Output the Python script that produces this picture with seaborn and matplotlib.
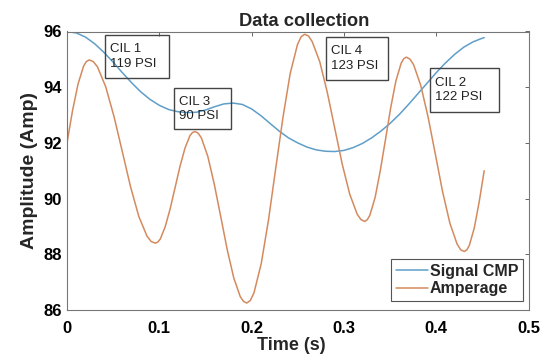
import numpy as np
import pandas as pd
import matplotlib
matplotlib.use("Agg")
import matplotlib.pyplot as plt
import seaborn as sns
from matplotlib.patches import Rectangle

# ---------------- data ----------------
series_names = ["Signal CMP", "Amperage"]
series_colors = ["#5f9ec9", "#d48a5e"]

cmp_time = [0.00, 0.01, 0.02, 0.03, 0.04, 0.05, 0.06, 0.07, 0.08, 0.09,
            0.10, 0.11, 0.12, 0.13, 0.14, 0.15, 0.16, 0.17, 0.18, 0.19,
            0.20, 0.21, 0.22, 0.23, 0.24, 0.25, 0.26, 0.27, 0.28, 0.29,
            0.30, 0.31, 0.32, 0.33, 0.34, 0.35, 0.36, 0.37, 0.38, 0.39,
            0.40, 0.41, 0.42, 0.43, 0.44, 0.45, 0.452]
cmp_value = [96.00, 95.95, 95.80, 95.56, 95.25, 94.90, 94.52, 94.16, 93.83, 93.56,
             93.35, 93.20, 93.12, 93.09, 93.10, 93.18, 93.30, 93.40, 93.43, 93.38,
             93.22, 92.98, 92.70, 92.42, 92.18, 92.00, 91.85, 91.75, 91.70, 91.69,
             91.73, 91.83, 91.98, 92.18, 92.42, 92.70, 93.02, 93.38, 93.76, 94.14,
             94.52, 94.87, 95.18, 95.44, 95.63, 95.76, 95.78]

amp_time = [0.000, 0.006, 0.012, 0.018, 0.021, 0.024,
            0.0285, 0.0330, 0.0419, 0.0509, 0.0599, 0.0688, 0.0778, 0.0867, 0.0912, 0.0957,
            0.0984, 0.1011, 0.1064, 0.1118, 0.1172, 0.1225, 0.1279, 0.1332, 0.1359, 0.1386,
            0.1421, 0.1456, 0.1526, 0.1596, 0.1667, 0.1737, 0.1807, 0.1877, 0.1912, 0.1947,
            0.1986, 0.2026, 0.2104, 0.2183, 0.2261, 0.2340, 0.2418, 0.2497, 0.2536, 0.2575,
            0.2616, 0.2656, 0.2738, 0.2819, 0.2900, 0.2981, 0.3063, 0.3144, 0.3184, 0.3225,
            0.3253, 0.3281, 0.3338, 0.3394, 0.3451, 0.3507, 0.3563, 0.3620, 0.3648, 0.3676,
            0.3715, 0.3755, 0.3833, 0.3912, 0.3991, 0.4069, 0.4148, 0.4226, 0.4266, 0.4305,
            0.4332, 0.4359, 0.4413, 0.4466, 0.4520]
amp_value = [92.00, 93.16, 94.12, 94.76, 94.92, 94.98,
             94.92, 94.73, 94.02, 92.95, 91.69, 90.43, 89.36, 88.65, 88.46, 88.40,
             88.44, 88.55, 88.99, 89.64, 90.41, 91.17, 91.82, 92.26, 92.37, 92.41,
             92.35, 92.18, 91.51, 90.51, 89.33, 88.15, 87.15, 86.48, 86.31, 86.25,
             86.34, 86.62, 87.66, 89.23, 91.08, 92.92, 94.49, 95.53, 95.81, 95.90,
             95.84, 95.64, 94.92, 93.83, 92.54, 91.25, 90.16, 89.44, 89.25, 89.18,
             89.24, 89.40, 90.04, 91.00, 92.13, 93.26, 94.22, 94.86, 95.02, 95.08,
             95.01, 94.81, 94.06, 92.93, 91.59, 90.25, 89.12, 88.37, 88.16, 88.10,
             88.16, 88.32, 88.95, 89.89, 91.00]

x_ticks = [0, 0.1, 0.2, 0.3, 0.4, 0.5]
x_tick_labels = ["0", "0.1", "0.2", "0.3", "0.4", "0.5"]
y_ticks = [86, 88, 90, 92, 94, 96]
y_tick_labels = ["86", "88", "90", "92", "94", "96"]

note_labels = ["CIL 1\n119 PSI", "CIL 3\n90 PSI", "CIL 4\n123 PSI", "CIL 2\n122 PSI"]
note_left = [0.0412, 0.1159, 0.2806, 0.3936]
note_right = [0.1105, 0.1777, 0.3481, 0.4680]
note_top = [95.87, 93.96, 95.81, 94.70]
note_bottom = [94.33, 92.49, 94.26, 93.12]

# ---------------- figure ----------------
sns.set_theme(style="white")
plt.rcParams["font.family"] = ["Liberation Sans", "DejaVu Sans"]

W, H = 551, 357
fig = plt.figure(figsize=(W / 100, H / 100), dpi=100)
fig.patch.set_facecolor("white")
ax = fig.add_axes([67 / W, 1 - 310 / H, 461.5 / W, 278.5 / H])

df = pd.concat([
    pd.DataFrame({"Time": cmp_time, "Value": cmp_value, "Series": series_names[0]}),
    pd.DataFrame({"Time": amp_time, "Value": amp_value, "Series": series_names[1]}),
], ignore_index=True)

sns.lineplot(data=df, x="Time", y="Value", hue="Series", hue_order=series_names,
             palette=series_colors, estimator=None, sort=False, linewidth=1.1, ax=ax)

ax.set_xlim(0, 0.5)
ax.set_ylim(86, 96)
ax.set_xticks(x_ticks)
ax.set_xticklabels(x_tick_labels)
ax.set_yticks(y_ticks)
ax.set_yticklabels(y_tick_labels)
plt.setp(ax.get_xticklabels(), fontweight="bold")
plt.setp(ax.get_yticklabels(), fontweight="bold")

ax.tick_params(axis="both", direction="in", length=3, width=0.7, color="#666666",
               labelcolor="black", labelsize=12, top=True, right=True)
ax.tick_params(axis="x", pad=8.0)
ax.tick_params(axis="y", pad=3.8)

for sp in ax.spines.values():
    sp.set_visible(True)
    sp.set_color("#777777")
    sp.set_linewidth(0.8)

ax.set_title("Data collection", fontsize=13.2, fontweight="bold", pad=4, x=0.513)
ax.set_xlabel("Time (s)", fontsize=13, fontweight="bold", labelpad=1, x=0.485)
ax.set_ylabel("Amplitude (Amp)", fontsize=14, fontweight="bold", labelpad=4)

# annotation boxes
for lab, x0, x1, y1, y0 in zip(note_labels, note_left, note_right, note_top, note_bottom):
    ax.add_patch(Rectangle((x0, y0), x1 - x0, y1 - y0, fill=False,
                           edgecolor="#444444", linewidth=1.0, zorder=5))
    ax.text(x0 + 5 / 923, (y0 + y1) / 2, lab, ha="left", va="center",
            fontsize=9.5, color="#222222", linespacing=1.25, zorder=6)

handles, labels = ax.get_legend_handles_labels()
leg = ax.legend(handles, labels, loc="lower right", bbox_to_anchor=(0.988, 0.032),
                frameon=True, fancybox=False, edgecolor="#555555", facecolor="white",
                framealpha=1, prop={"weight": "bold", "size": 11.5},
                handlelength=2.0, handletextpad=0.1, labelspacing=0.15,
                borderpad=0.3, borderaxespad=0)
leg.get_frame().set_linewidth(0.8)

fig.savefig("out.png", dpi=100)
